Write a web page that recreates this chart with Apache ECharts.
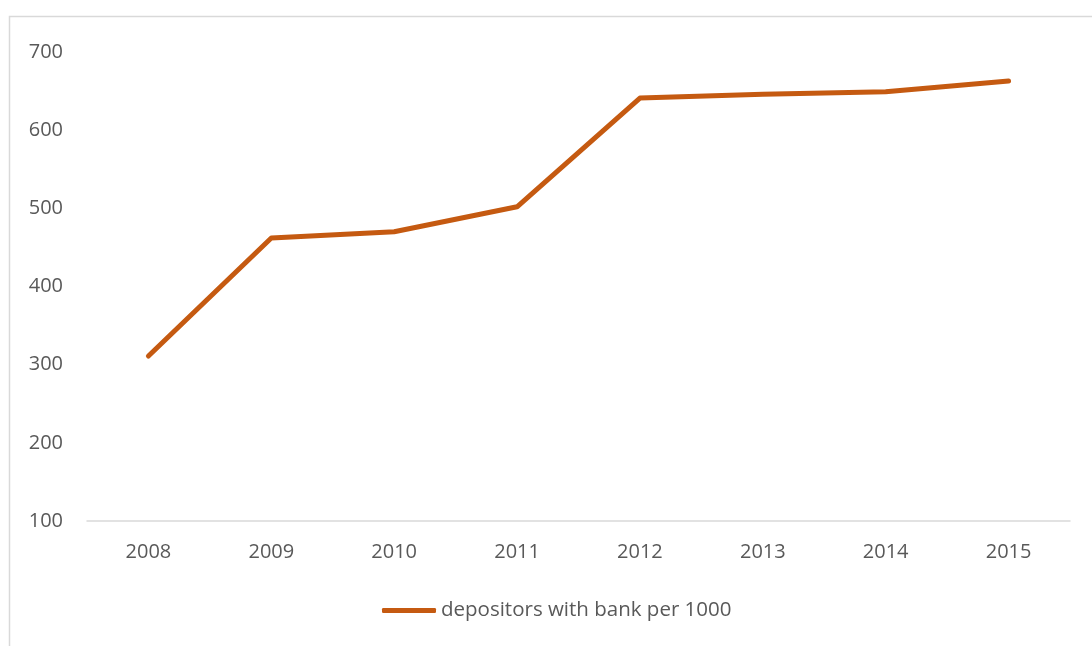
<!DOCTYPE html>
<html>
<head>
<meta charset="utf-8">
<style>
  html, body { margin: 0; padding: 0; background: #ffffff; }
  #chart { width: 1092px; height: 646px; }
</style>
<script src="https://cdn.jsdelivr.net/npm/echarts@6/dist/echarts.min.js"></script>
</head>
<body>
<div id="chart"></div>
<script>
// Years on the category axis
const years = ['2008', '2009', '2010', '2011', '2012', '2013', '2014', '2015'];
// Depositors with commercial banks per 1000 adults
const depositors = [311, 462, 470, 502, 641, 646, 649, 663];
const seriesName = 'depositors with bank per 1000';

const textColor = '#595959';
const lineColor = '#C55A11';
const fontFamily = '"Open Sans", "Liberation Sans", sans-serif';

const chart = echarts.init(document.getElementById('chart'), null, { renderer: 'canvas' });
chart.setOption({
  backgroundColor: '#ffffff',
  animation: false,
  graphic: [{
    type: 'rect',
    shape: { x: 9.5, y: 16.5, width: 1200, height: 800 },
    style: { fill: 'none', stroke: '#d9d9d9', lineWidth: 1.5 },
    silent: true,
    z: -1
  }],
  grid: { left: 87, right: 22, top: 52, bottom: 125, containLabel: false },
  xAxis: {
    type: 'category',
    data: years,
    boundaryGap: true,
    axisLine: { lineStyle: { color: '#d9d9d9', width: 1.5 } },
    axisTick: { show: false },
    axisLabel: { color: textColor, fontSize: 20, fontFamily: fontFamily, margin: 21 }
  },
  yAxis: {
    type: 'value',
    min: 100,
    max: 700,
    interval: 100,
    axisLine: { show: false },
    axisTick: { show: false },
    splitLine: { show: false },
    axisLabel: { color: textColor, fontSize: 20, fontFamily: fontFamily, margin: 24 }
  },
  legend: {
    bottom: 20,
    left: 377,
    icon: 'roundRect',
    itemWidth: 54,
    itemHeight: 5,
    textStyle: { color: textColor, fontSize: 20.5, fontFamily: fontFamily },
    data: [seriesName]
  },
  series: [{
    name: seriesName,
    type: 'line',
    data: depositors,
    symbol: 'none',
    lineStyle: { color: lineColor, width: 5, cap: 'round', join: 'round' },
    itemStyle: { color: lineColor }
  }]
});
</script>
</body>
</html>
